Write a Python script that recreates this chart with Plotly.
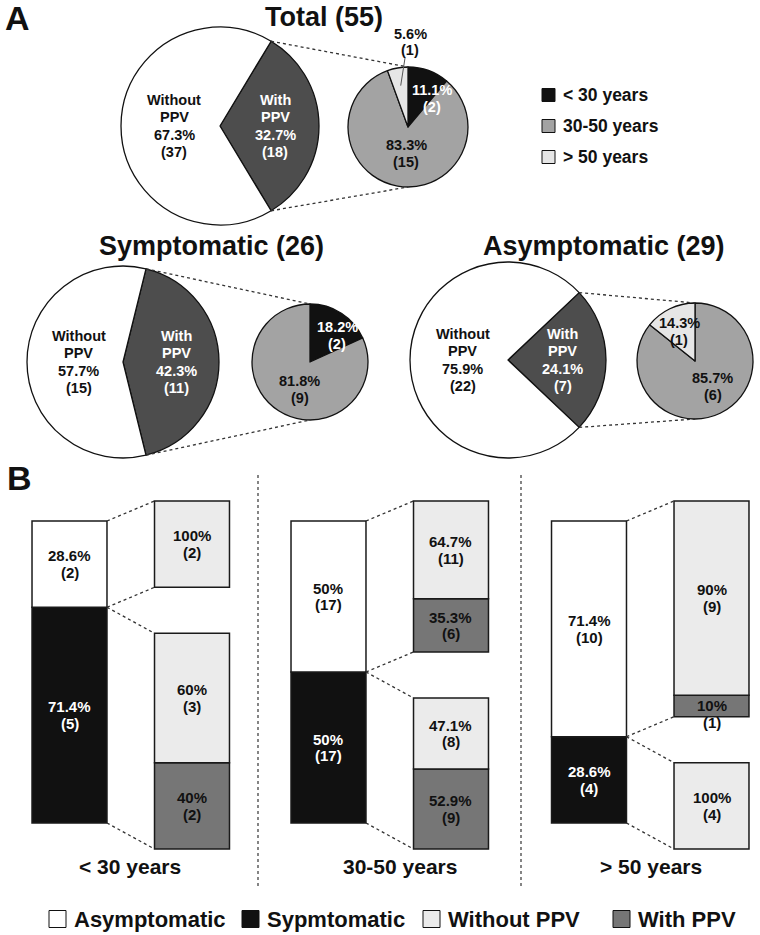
import math
import plotly.graph_objects as go

W, H = 760, 935
FONT = "Liberation Sans, Arial, Helvetica, sans-serif"

# ---------------- data ----------------
AGE_GROUPS = ["< 30 years", "30-50 years", "> 50 years"]
ASYM_WITHOUT_PPV = [2, 11, 9]
ASYM_WITH_PPV = [0, 6, 1]
SYM_WITHOUT_PPV = [3, 8, 4]
SYM_WITH_PPV = [2, 9, 0]

PIE_GROUPS = ["Total", "Symptomatic", "Asymptomatic"]
PPV_LABELS = ["With PPV", "Without PPV"]
B_LEGEND = ["Asymptomatic", "Sypmtomatic", "Without PPV", "With PPV"]

# ---------------- style / layout ----------------
C_DARK = "#111111"
C_WHITE = "#ffffff"
C_PIE_WITH = "#4d4d4d"
C_AGE = ["#111111", "#a3a3a3", "#e6e6e6"]
C_WITHOUT = "#ebebeb"
C_WITH = "#767676"
B_LEGEND_COLORS = [C_WHITE, C_DARK, C_WITHOUT, C_WITH]

PIE_GEOM = {
    "Total": dict(title_xy=(324, 17), big=(220, 126, 99), small=(408, 127, 60)),
    "Symptomatic": dict(title_xy=(212, 246), big=(123, 362, 96), small=(310, 362, 58)),
    "Asymptomatic": dict(title_xy=(604, 246), big=(508, 360, 98), small=(695, 361, 58)),
}
SMALL_LABEL_POS = {
    "Total": {0: (40, 0.63), 1: (184, 0.45), 2: "outside"},
    "Symptomatic": {0: (46, 0.65), 1: (200, 0.51)},
    "Asymptomatic": {1: (145, 0.54), 2: (332, 0.58)},
}

COL_MAIN_PX = [69.5, 328.5, 589]
UNIT_PX = 122.5
XR = [-0.55, 1.35]
BAR_W = 0.612
Y0_PX, Y100_PX = 823, 521
YDOM_PX = (490, 860)
PPU = (Y0_PX - Y100_PX) / 100.0
YR = [(Y0_PX - YDOM_PX[1]) / PPU, (Y0_PX - YDOM_PX[0]) / PPU]
GAP_UP = 20 / PPU
GAP_DOWN = 26 / PPU
COL_LABEL_X = [130, 400, 651]


def PX(x):
    return x / W


def PY(y):
    return 1 - y / H


def fmt_pct(p):
    s = f"{p:.1f}"
    return s[:-2] if s.endswith(".0") else s


ann = []
shapes = []


def text_block_paper(cx, cy, lines, size, color, spacing):
    n = len(lines)
    for i, t in enumerate(lines):
        y = cy - spacing * (n - 1) / 2 + i * spacing
        ann.append(dict(x=PX(cx), y=PY(y), xref="paper", yref="paper",
                        text=f"<b>{t}</b>", showarrow=False,
                        xanchor="center", yanchor="middle",
                        font=dict(family=FONT, size=size, color=color)))


def text_block_axis(xref, x, y, lines, size, color, spacing, shift=0):
    n = len(lines)
    for i, t in enumerate(lines):
        ys = spacing * (n - 1) / 2 - i * spacing + shift
        ann.append(dict(x=x, y=y, xref=xref, yref="y", yshift=ys,
                        text=f"<b>{t}</b>", showarrow=False,
                        xanchor="center", yanchor="middle",
                        font=dict(family=FONT, size=size, color=color)))


def dotted(x0, y0, x1, y1, xref="paper", yref="paper", color="#333333"):
    shapes.append(dict(type="line", x0=x0, y0=y0, x1=x1, y1=y1, xref=xref, yref=yref,
                       line=dict(color=color, width=1.3, dash="dot")))


fig = go.Figure()

# ---------------- Panel A: pies ----------------
with_by_age = {
    "Total": [a + s for a, s in zip(ASYM_WITH_PPV, SYM_WITH_PPV)],
    "Symptomatic": SYM_WITH_PPV,
    "Asymptomatic": ASYM_WITH_PPV,
}
without_n = {
    "Total": sum(ASYM_WITHOUT_PPV) + sum(SYM_WITHOUT_PPV),
    "Symptomatic": sum(SYM_WITHOUT_PPV),
    "Asymptomatic": sum(ASYM_WITHOUT_PPV),
}

for g in PIE_GROUPS:
    geo = PIE_GEOM[g]
    cx, cy, r = geo["big"]
    w = sum(with_by_age[g])
    wo = without_n[g]
    tot = w + wo
    half = 180.0 * w / tot
    fig.add_trace(go.Pie(
        values=[w, wo], labels=PPV_LABELS, sort=False, direction="clockwise",
        rotation=90 - half,
        marker=dict(colors=[C_PIE_WITH, C_WHITE], line=dict(color=C_DARK, width=1.3)),
        textinfo="none", hoverinfo="none", showlegend=False,
        domain=dict(x=[PX(cx - r), PX(cx + r)], y=[PY(cy + r), PY(cy - r)]),
    ))
    text_block_paper(cx - 0.46 * r, cy, ["Without", "PPV", fmt_pct(100 * wo / tot) + "%", f"({wo})"],
                     14.5, C_DARK, 17.5)
    text_block_paper(cx + 0.56 * r, cy, ["With", "PPV", fmt_pct(100 * w / tot) + "%", f"({w})"],
                     14.5, C_WHITE, 17.5)
    tx, ty = geo["title_xy"]
    ann.append(dict(x=PX(tx), y=PY(ty), xref="paper", yref="paper",
                    text=f"<b>{g} ({tot})</b>", showarrow=False,
                    xanchor="center", yanchor="middle",
                    font=dict(family=FONT, size=27, color=C_DARK)))

    # small pie
    scx, scy, sr = geo["small"]
    vals = with_by_age[g]
    nz = [i for i, v in enumerate(vals) if v > 0]
    fig.add_trace(go.Pie(
        values=[vals[i] for i in nz], labels=[AGE_GROUPS[i] for i in nz], sort=False,
        direction="clockwise", rotation=0,
        marker=dict(colors=[C_AGE[i] for i in nz], line=dict(color=C_DARK, width=1.3)),
        textinfo="none", hoverinfo="none", showlegend=False,
        domain=dict(x=[PX(scx - sr), PX(scx + sr)], y=[PY(scy + sr), PY(scy - sr)]),
    ))
    # connectors
    a = math.radians(half)
    dotted(PX(cx + r * math.cos(a)), PY(cy - r * math.sin(a)), PX(scx), PY(scy - sr))
    dotted(PX(cx + r * math.cos(a)), PY(cy + r * math.sin(a)), PX(scx), PY(scy + sr))
    # small labels
    s_tot = sum(vals)
    start = 0.0
    for i, v in enumerate(vals):
        if v == 0:
            continue
        end = start + 360.0 * v / s_tot
        lines = [fmt_pct(100 * v / s_tot) + "%", f"({v})"]
        pos = SMALL_LABEL_POS[g].get(i)
        col = C_WHITE if i == 0 else C_DARK
        if pos == "outside":
            m = math.radians((start + end) / 2)
            x0 = scx + 0.7 * sr * math.sin(m)
            y0 = scy - 0.7 * sr * math.cos(m)
            shapes.append(dict(type="line", xref="paper", yref="paper",
                               x0=PX(x0), y0=PY(y0), x1=PX(scx - 3), y1=PY(scy - sr - 9),
                               line=dict(color="#555555", width=1)))
            text_block_paper(scx + 2, scy - sr - 25, lines, 14.5, C_DARK, 17)
        elif pos is not None:
            ang = math.radians(pos[0])
            lx = scx + pos[1] * sr * math.sin(ang)
            ly = scy - pos[1] * sr * math.cos(ang)
            text_block_paper(lx, ly, lines, 14.5, col, 17)
        start = end

# Panel A legend
for i, lab in enumerate(AGE_GROUPS):
    yc = 95 + 31 * i
    shapes.append(dict(type="rect", xref="paper", yref="paper",
                       x0=PX(542), x1=PX(555), y0=PY(yc + 6.5), y1=PY(yc - 6.5),
                       fillcolor=C_AGE[i], line=dict(color=C_DARK, width=1)))
    ann.append(dict(x=PX(561), y=PY(yc), xref="paper", yref="paper",
                    text=f"<b>{lab}</b>", showarrow=False, xanchor="left", yanchor="middle",
                    font=dict(family=FONT, size=17.5, color=C_DARK)))

# ---------------- Panel B: bars ----------------
layout_axes = {}
for c in range(3):
    xname = "x" if c == 0 else f"x{c + 1}"
    akey = "xaxis" if c == 0 else f"xaxis{c + 1}"
    mc = COL_MAIN_PX[c]
    layout_axes[akey] = dict(domain=[PX(mc + XR[0] * UNIT_PX), PX(mc + XR[1] * UNIT_PX)],
                             range=XR, visible=False, anchor="y", fixedrange=True)

    a_wo, a_w = ASYM_WITHOUT_PPV[c], ASYM_WITH_PPV[c]
    s_wo, s_w = SYM_WITHOUT_PPV[c], SYM_WITH_PPV[c]
    a_n, s_n = a_wo + a_w, s_wo + s_w
    col_n = a_n + s_n
    k = 100.0 / col_n
    sym_h = s_n * k

    segs = []  # (x, base, height, color, lines, text color)
    segs.append((0, 0, sym_h, C_DARK, [fmt_pct(100 * s_n / col_n) + "%", f"({s_n})"], C_WHITE))
    segs.append((0, sym_h, a_n * k, C_WHITE, [fmt_pct(100 * a_n / col_n) + "%", f"({a_n})"], C_DARK))
    # asymptomatic breakdown (upper detail bar)
    b = sym_h + GAP_UP
    for n, colr in ((a_w, C_WITH), (a_wo, C_WITHOUT)):
        if n > 0:
            segs.append((1, b, n * k, colr, [fmt_pct(100 * n / a_n) + "%", f"({n})"], C_DARK))
            b += n * k
    # symptomatic breakdown (lower detail bar)
    b = -GAP_DOWN
    for n, colr in ((s_w, C_WITH), (s_wo, C_WITHOUT)):
        if n > 0:
            segs.append((1, b, n * k, colr, [fmt_pct(100 * n / s_n) + "%", f"({n})"], C_DARK))
            b += n * k

    for x, base, h, colr, lines, tcol in segs:
        fig.add_trace(go.Bar(x=[x], y=[h], base=[base], width=[BAR_W],
                             marker=dict(color=colr, line=dict(color="#1a1a1a", width=1.5)),
                             xaxis=xname, yaxis="y", showlegend=False, hoverinfo="skip"))
        shift = -8 if h * PPU < 33 else 0
        text_block_axis(xname, x, base + h / 2, lines, 15, tcol, 16.5, shift)

    xe, xd = BAR_W / 2, 1 - BAR_W / 2
    dotted(xe, 100, xd, 100 + GAP_UP, xname, "y")
    dotted(xe, sym_h, xd, sym_h + GAP_UP, xname, "y")
    dotted(xe, sym_h, xd, sym_h - GAP_DOWN, xname, "y")
    dotted(xe, 0, xd, -GAP_DOWN, xname, "y")

    ann.append(dict(x=PX(COL_LABEL_X[c]), y=PY(866), xref="paper", yref="paper",
                    text=f"<b>{AGE_GROUPS[c]}</b>", showarrow=False,
                    xanchor="center", yanchor="middle",
                    font=dict(family=FONT, size=21, color=C_DARK)))

for sx in (258, 521):
    dotted(PX(sx), PY(475), PX(sx), PY(887), color="#444444")

# bottom legend
LEG_SQ_X = [49, 242, 423, 613]
for lab, colr, sx in zip(B_LEGEND, B_LEGEND_COLORS, LEG_SQ_X):
    yc = 919
    shapes.append(dict(type="rect", xref="paper", yref="paper",
                       x0=PX(sx), x1=PX(sx + 17), y0=PY(yc + 8.5), y1=PY(yc - 8.5),
                       fillcolor=colr, line=dict(color=C_DARK, width=1)))
    ann.append(dict(x=PX(sx + 23), y=PY(yc), xref="paper", yref="paper",
                    text=f"<b>{lab}</b>", showarrow=False, xanchor="left", yanchor="middle",
                    font=dict(family=FONT, size=22, color=C_DARK)))

# panel letters
for letter, (lx, ly) in (("A", (3, 18)), ("B", (5, 478))):
    ann.append(dict(x=PX(lx), y=PY(ly), xref="paper", yref="paper",
                    text=f"<b>{letter}</b>", showarrow=False, xanchor="left", yanchor="middle",
                    font=dict(family=FONT, size=34, color=C_DARK)))

fig.update_layout(
    width=W, height=H, margin=dict(l=0, r=0, t=0, b=0),
    paper_bgcolor="white", plot_bgcolor="rgba(0,0,0,0)",
    barmode="overlay", showlegend=False,
    yaxis=dict(domain=[PY(YDOM_PX[1]), PY(YDOM_PX[0])], range=YR, visible=False,
               anchor="x", fixedrange=True),
    annotations=ann, shapes=shapes,
    font=dict(family=FONT),
    **layout_axes,
)

fig.write_html("out.html", post_script="document.body.style.margin='0px';",
               config={"displayModeBar": False})
